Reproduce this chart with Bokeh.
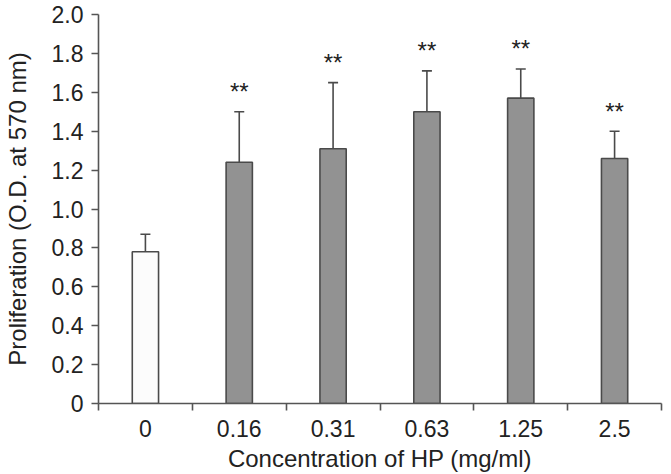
from bokeh.plotting import figure
from bokeh.models import ColumnDataSource, FixedTicker, Whisker, TeeHead, Range1d
from bokeh.core.properties import value
from bokeh.embed import file_html
from bokeh.resources import INLINE

categories = ["0", "0.16", "0.31", "0.63", "1.25", "2.5"]
means = [0.78, 1.24, 1.31, 1.50, 1.57, 1.26]
errors = [0.09, 0.26, 0.34, 0.21, 0.15, 0.14]
marks = ["", "**", "**", "**", "**", "**"]
y_ticks = [0, 0.2, 0.4, 0.6, 0.8, 1.0, 1.2, 1.4, 1.6, 1.8, 2.0]

xs = [i + 0.5 for i in range(len(categories))]
upper = [m + e for m, e in zip(means, errors)]
fills = ["#fcfcfc"] + ["#929292"] * (len(categories) - 1)

src = ColumnDataSource(dict(x=xs, top=means, upper=upper, fill=fills, mark=marks))

FONT = "Liberation Sans"
TICK_FS = "23px"
LABEL_FS = "24px"

p = figure(width=671, height=474, output_backend="svg", toolbar_location=None,
           x_range=Range1d(0, len(categories)), y_range=Range1d(0, 2.0),
           min_border_left=98, min_border_right=10, min_border_top=14, min_border_bottom=70)
p.outline_line_color = None
p.xgrid.visible = False
p.ygrid.visible = False
p.background_fill_color = "white"
p.border_fill_color = "white"

p.vbar(x="x", top="top", bottom=0, width=0.28, source=src, fill_color="fill",
       line_color="#4a4a4a", line_width=1.6)

w = Whisker(source=src, base="x", upper="upper", lower="top",
            upper_head=TeeHead(size=10, line_color="#4a4a4a", line_width=1.6),
            lower_head=None, line_color="#4a4a4a", line_width=1.6)
p.add_layout(w)

p.text(x="x", y="upper", text="mark", source=src, text_align="center",
       text_baseline="alphabetic", y_offset=-20, text_font=value(FONT),
       text_font_size="24px", text_color="#222222")

# x axis: labels at centres, tick marks at category boundaries (minor ticks)
xa = p.xaxis[0]
xa.ticker = FixedTicker(ticks=xs, minor_ticks=list(range(len(categories) + 1)))
xa.major_label_overrides = {x: c for x, c in zip(xs, categories)}
xa.major_tick_line_color = None
xa.minor_tick_out = 7
xa.minor_tick_in = 0
xa.minor_tick_line_color = "#555555"
xa.minor_tick_line_width = 1.6
xa.axis_line_color = "#555555"
xa.axis_line_width = 1.6
xa.axis_label = "Concentration of HP (mg/ml)"
xa.axis_label_text_font = FONT
xa.axis_label_text_font_size = LABEL_FS
xa.axis_label_text_font_style = "normal"
xa.axis_label_text_color = "#222222"
xa.axis_label_standoff = 5
xa.major_label_text_font = FONT
xa.major_label_text_font_size = TICK_FS
xa.major_label_text_color = "#222222"
xa.major_label_standoff = 9

ya = p.yaxis[0]
ya.ticker = FixedTicker(ticks=y_ticks, minor_ticks=[])
ya.major_label_overrides = {t: ("0" if t == 0 else f"{t:.1f}") for t in y_ticks}
ya.major_tick_out = 7
ya.major_tick_in = 0
ya.major_tick_line_color = "#555555"
ya.major_tick_line_width = 1.6
ya.axis_line_color = "#555555"
ya.axis_line_width = 1.6
ya.axis_label = "Proliferation (O.D. at 570 nm)"
ya.axis_label_text_font = FONT
ya.axis_label_text_font_size = LABEL_FS
ya.axis_label_text_font_style = "normal"
ya.axis_label_text_color = "#222222"
ya.axis_label_standoff = 18
ya.major_label_text_font = FONT
ya.major_label_text_font_size = TICK_FS
ya.major_label_text_color = "#222222"
ya.major_label_standoff = 8

open("out.html", "w").write(file_html(p, INLINE))
